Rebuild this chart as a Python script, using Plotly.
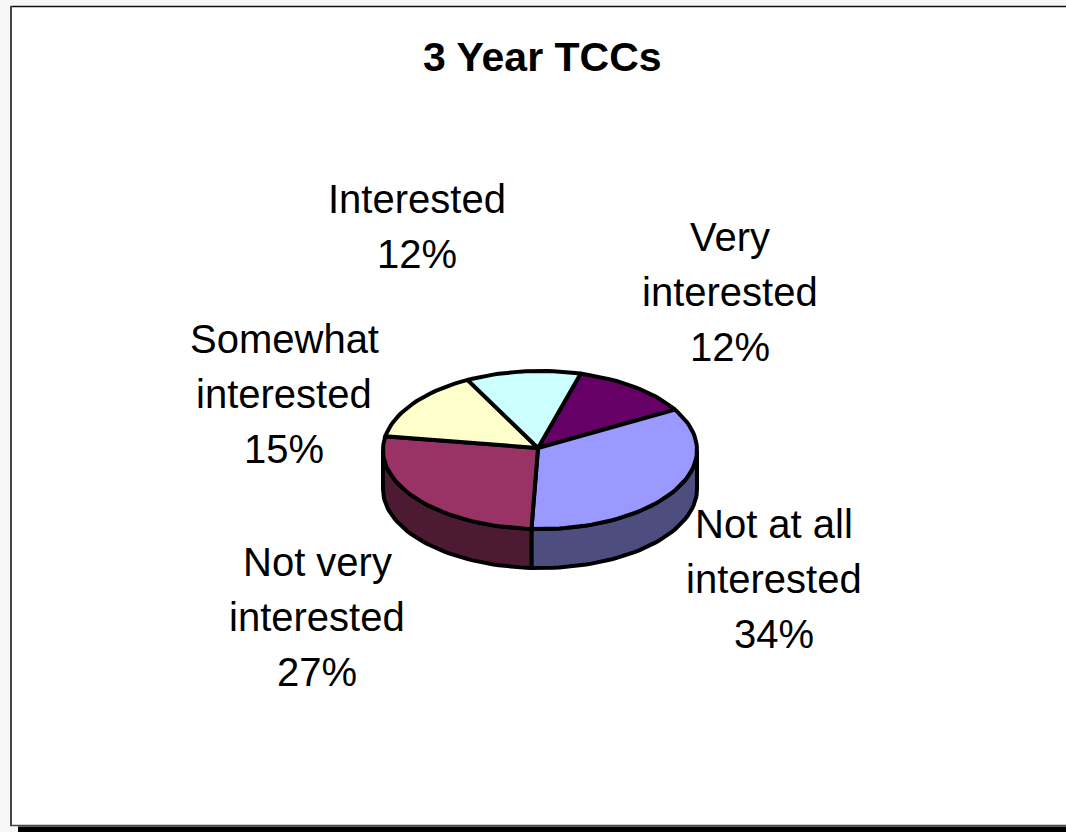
import math
import plotly.graph_objects as go

title = "3 Year TCCs"
categories = ["Very interested", "Not at all interested", "Not very interested", "Somewhat interested", "Interested"]
shares = [12.3, 34.4, 26.9, 14.6, 11.8]
top_colors = ["#660066", "#9999FF", "#993366", "#FFFFCC", "#CCFFFF"]
side_colors = ["#330033", "#4D4D80", "#4D1A33", "#808066", "#668080"]
label_lines = [["Very", "interested"], ["Not at all", "interested"], ["Not very", "interested"], ["Somewhat", "interested"], ["Interested"]]
label_centers = [(730, 237), (774, 524), (317, 562), (284, 339), (417, 199)]

W, H = 1066, 832
CX, CY, RX, RY, DEPTH = 540, 450, 157, 79, 39
HUB = (538, 448)
START = 15.0
LINE = 4.0
LINE_STEP = 55


def rim(t_deg, drop=0.0):
    t = math.radians(t_deg)
    return CX + RX * math.sin(t), CY - RY * math.cos(t) + drop


def arc(a, b, drop=0.0):
    n = max(2, int(abs(b - a) / 2) + 1)
    return [rim(a + (b - a) * i / (n - 1), drop) for i in range(n)]


fig = go.Figure()

# wedge limits from the shares
angles = [START]
for s in shares:
    angles.append(angles[-1] + s * 3.6)

# side walls (only the front half of the rim is visible)
for i, cat in enumerate(categories):
    a, b = max(angles[i], 90), min(angles[i + 1], 270)
    if b <= a:
        continue
    pts = arc(a, b) + arc(b, a, DEPTH)
    pts.append(pts[0])
    fig.add_trace(go.Scatter(x=[p[0] for p in pts], y=[p[1] for p in pts], mode="lines", fill="toself",
                             fillcolor=side_colors[i], line=dict(color="black", width=LINE),
                             hoverinfo="skip", showlegend=False))

# top face
for i, cat in enumerate(categories):
    pts = [HUB] + arc(angles[i], angles[i + 1]) + [HUB]
    fig.add_trace(go.Scatter(x=[p[0] for p in pts], y=[p[1] for p in pts], mode="lines", fill="toself",
                             fillcolor=top_colors[i], line=dict(color="black", width=LINE),
                             name=cat, text=f"{round(shares[i])}%", hoverinfo="name+text", showlegend=False))

annotations = [dict(x=542, y=57, text=f"<b>{title}</b>", showarrow=False, xanchor="center", yanchor="middle",
                    font=dict(family="Liberation Sans", size=41, color="black"))]
for lines, (lx, ly), s in zip(label_lines, label_centers, shares):
    for k, txt in enumerate(lines + [f"{round(s)}%"]):
        annotations.append(dict(x=lx, y=ly + k * LINE_STEP, text=txt, showarrow=False, xanchor="center",
                                yanchor="middle", font=dict(family="Liberation Sans", size=40, color="black")))

shapes = [
    dict(type="rect", x0=11, y0=7, x1=W + 5, y1=826, fillcolor="white", line=dict(width=0), layer="below"),
    dict(type="line", x0=11, y0=6.5, x1=W, y1=6.5, line=dict(color="#111111", width=1.5), layer="below"),
    dict(type="line", x0=11, y0=6, x1=11, y1=826, line=dict(color="#444444", width=2), layer="below"),
    dict(type="line", x0=10, y0=825.5, x1=W, y1=825.5, line=dict(color="#444444", width=1.5), layer="below"),
    dict(type="rect", x0=18, y0=826.5, x1=W + 5, y1=H + 5, fillcolor="black", line=dict(width=0), layer="below"),
]

fig.update_layout(
    width=W, height=H, margin=dict(l=0, r=0, t=0, b=0),
    paper_bgcolor="#F6F7F6", plot_bgcolor="rgba(0,0,0,0)",
    xaxis=dict(range=[0, W], visible=False, fixedrange=True),
    yaxis=dict(range=[H, 0], visible=False, fixedrange=True),
    annotations=annotations, shapes=shapes, showlegend=False,
)

fig.write_html("out.html", config={"displayModeBar": False},
               post_script="document.body.style.margin='0';document.body.style.overflow='hidden';")
